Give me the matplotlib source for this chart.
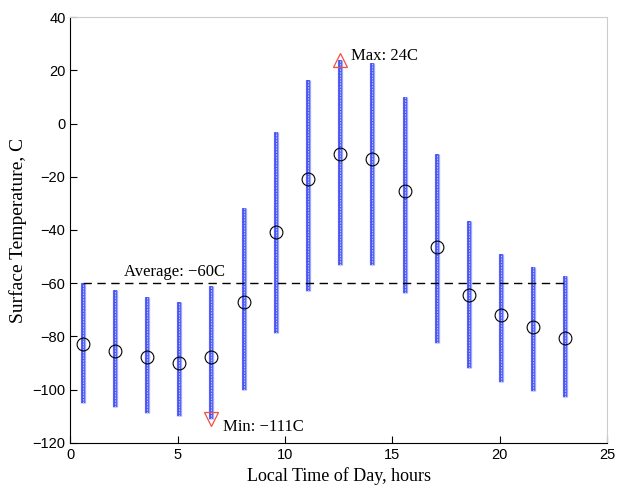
import matplotlib
matplotlib.use("Agg")
import matplotlib.pyplot as plt

hours = [0.57, 2.07, 3.57, 5.07, 6.57, 8.07, 9.57, 11.07, 12.57, 14.07,
         15.57, 17.07, 18.57, 20.07, 21.57, 23.07]
t_mean = [-83.0, -85.5, -87.7, -89.9, -87.6, -67.2, -40.6, -20.9, -11.4, -13.3,
          -25.5, -46.5, -64.4, -72.0, -76.6, -80.5]
t_max = [-60.1, -62.6, -65.3, -67.2, -61.0, -31.6, -3.1, 16.4, 24.0, 22.7,
         9.9, -11.4, -36.6, -49.0, -54.1, -57.3]
t_min = [-104.9, -106.7, -108.7, -109.9, -111.0, -100.2, -78.8, -62.8, -53.3, -53.3,
         -63.8, -82.4, -91.8, -97.0, -100.4, -102.9]
average = -60
max_point = (12.57, 24)
min_point = (6.57, -111)

serif = ["Liberation Serif", "DejaVu Serif"]
sans = ["Liberation Sans", "DejaVu Sans"]

fig = plt.figure(figsize=(6.18, 4.87), dpi=100)
ax = fig.add_axes([0.114, 0.091, 0.868, 0.8735])

for x, lo, hi in zip(hours, t_min, t_max):
    ax.plot([x, x], [lo, hi], color=(0.62, 0.66, 0.96), lw=3.8, solid_capstyle="butt", zorder=2)
    ax.plot([x, x], [lo, hi], color=(0.28, 0.32, 0.95), lw=2.6, solid_capstyle="butt", zorder=3)
    ax.plot([x, x], [lo, hi], color=(0.7, 0.74, 1.0), lw=0.8, ls=(0, (1.5, 1.0)), zorder=4)

ax.plot(hours, t_mean, ls="none", marker="o", mfc="none", mec="black", ms=9.2, mew=0.8, zorder=5)

ax.plot([hours[0], hours[-1]], [average, average], color="black", ls=(0, (6, 4)), lw=1.0, zorder=4)
ax.text(hours[0] + 1.92, average + 1.3, "Average: \u221260C", family=serif, fontsize=12,
        ha="left", va="bottom")

ax.plot([max_point[0]], [max_point[1]], marker="^", mfc="none", mec=(0.95, 0.3, 0.25), ms=10, mew=0.9, zorder=6)
ax.plot([min_point[0]], [min_point[1]], marker="v", mfc="none", mec=(0.95, 0.3, 0.25), ms=10, mew=0.9, zorder=6)
ax.text(max_point[0] + 0.5, max_point[1] + 1.5, "Max: 24C", family=serif, fontsize=12,
        ha="left", va="center")
ax.text(min_point[0] + 0.55, min_point[1] - 3.0, "Min: \u2212111C", family=serif, fontsize=12,
        ha="left", va="center")

ax.set_xlim(0, 25)
ax.set_ylim(-120, 40)
ax.set_xticks([0, 5, 10, 15, 20, 25])
ax.set_yticks(range(-120, 41, 20))
ax.set_yticklabels([str(v).replace("-", "\u2212") for v in range(-120, 41, 20)])
ax.tick_params(direction="in", length=5, width=0.8, labelsize=10.5, top=False, right=False)
for lab in ax.get_xticklabels() + ax.get_yticklabels():
    lab.set_family(sans)

for s in ["left", "bottom"]:
    ax.spines[s].set_color("black")
    ax.spines[s].set_linewidth(0.8)
for s in ["top", "right"]:
    ax.spines[s].set_color("#cccccc")
    ax.spines[s].set_linewidth(0.8)

ax.set_xlabel("Local Time of Day, hours", family=serif, fontsize=13, labelpad=4)
ax.set_ylabel("Surface Temperature, C", family=serif, fontsize=14, labelpad=4)

fig.savefig("out.png", dpi=100)
